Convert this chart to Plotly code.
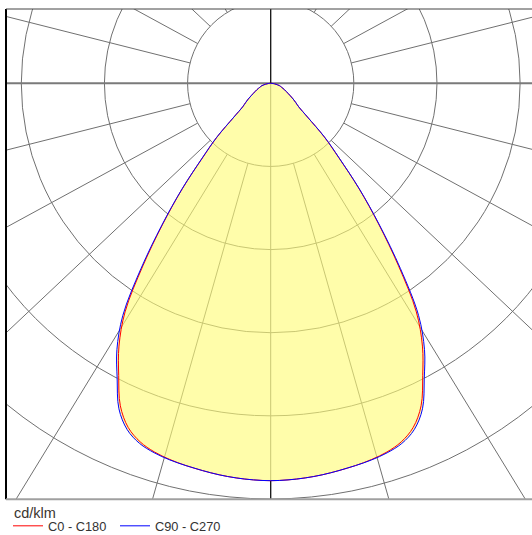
import numpy as np
import plotly.graph_objects as go

# Luminous intensity distribution, cd/klm, vertical angle gamma in degrees
GAMMA = [0, 2.5, 5, 7.5, 10, 12.5, 15, 17.5, 20, 22.5, 25, 27.5, 30, 32.5, 35,
         37.5, 40, 42.5, 45, 47.5, 50, 52.5, 55, 57.5, 60, 62.5, 65, 67.5, 70,
         72.5, 75, 77.5, 80, 82.5, 85, 87.5, 90]
C0_C180 = [478, 477.5, 476.5, 475, 473, 471, 468.5, 465, 459, 448, 428, 396, 365, 326,
           268, 213, 165, 121, 91, 60, 44, 38, 33, 28, 24, 21, 18.5, 16, 14,
           12.5, 11, 8.5, 6.5, 4.5, 3, 1.5, 0]
C90_C270 = [478, 477.5, 476.5, 475, 473, 471, 469, 466, 461, 451, 432, 400, 370, 331,
            272, 215, 166, 122, 92, 60, 44, 38, 33, 28, 24, 21, 18.5, 16, 14,
            12.5, 11, 8.5, 6.5, 4.5, 3, 1.5, 0]
SERIES_NAMES = ["C0 - C180", "C90 - C270"]
SERIES_COLORS = ["#ff0000", "#0000ff"]
UNIT = "cd/klm"

RINGS = [100, 200, 300, 400, 500]
RADIAL_STEP = 15
RADIAL_SQUEEZE = 0.943   # vertical compression of the radial guide lines

X_RANGE = [-318.4, 314.3]
Y_RANGE = [-500.4, 89.4]
W, H = 532, 535
DOM_X = [6 / W, 1.0]
DOM_Y = [1 - 499.3 / H, 1 - 9 / H]

GRID = "#707070"


def outline(values):
    g = np.radians(np.array(GAMMA, dtype=float))
    v = np.array(values, dtype=float)
    gg = np.concatenate([-g[::-1], g[1:]])
    vv = np.concatenate([v[::-1], v[1:]])
    return vv * np.sin(gg), -vv * np.cos(gg)


shapes = []
# concentric rings
for r in RINGS:
    shapes.append(dict(type="circle", xref="x", yref="y", x0=-r, x1=r, y0=-r, y1=r,
                       line=dict(color=GRID, width=1), layer="below"))
# radial lines, starting at the first ring
for a in range(RADIAL_STEP, 360, RADIAL_STEP):
    if a % 90 == 0:
        continue
    t = np.radians(a)
    d = np.array([np.sin(t), -np.cos(t) * RADIAL_SQUEEZE])
    d = d / np.hypot(*d)
    p0 = d * RINGS[0]
    p1 = d * 2000
    shapes.append(dict(type="line", xref="x", yref="y", x0=p0[0], y0=p0[1],
                       x1=p1[0], y1=p1[1], line=dict(color=GRID, width=1),
                       layer="below"))
# nadir line under the light
peak = max(max(C0_C180), max(C90_C270))
shapes.append(dict(type="line", xref="x", yref="y", x0=0, x1=0, y0=0, y1=-peak,
                   line=dict(color=GRID, width=1), layer="below"))
# horizontal axis through the luminaire
shapes.append(dict(type="line", xref="x", yref="y", x0=-1000, x1=1000, y0=0, y1=0,
                   line=dict(color="#7a7a7a", width=2), layer="below"))
# vertical axis above the luminaire and below the distribution
shapes.append(dict(type="line", xref="x", yref="y", x0=0, x1=0, y0=0, y1=1000,
                   line=dict(color="#111111", width=1.3), layer="below"))
shapes.append(dict(type="line", xref="x", yref="y", x0=0, x1=0, y0=-peak, y1=-1000,
                   line=dict(color="#111111", width=1.3), layer="below"))
# frame
shapes.append(dict(type="line", xref="paper", yref="paper", x0=DOM_X[0], x1=DOM_X[0],
                   y0=DOM_Y[0], y1=DOM_Y[1], line=dict(color="#000000", width=2)))
shapes.append(dict(type="line", xref="paper", yref="paper", x0=DOM_X[0], x1=1,
                   y0=DOM_Y[1], y1=DOM_Y[1], line=dict(color="#444444", width=1)))
shapes.append(dict(type="line", xref="paper", yref="paper", x0=DOM_X[0], x1=1,
                   y0=DOM_Y[0], y1=DOM_Y[0], line=dict(color="#a0a0a0", width=2)))

fig = go.Figure()
fx, fy = outline(C90_C270)
fig.add_trace(go.Scatter(x=fx, y=fy, mode="lines", fill="toself",
                         fillcolor="rgba(255,252,118,0.62)",
                         line=dict(width=0, shape="spline"),
                         hoverinfo="skip", showlegend=False))
for name, vals, col in zip(SERIES_NAMES, [C0_C180, C90_C270], SERIES_COLORS):
    x, y = outline(vals)
    fig.add_trace(go.Scatter(x=x, y=y, mode="lines", name=name,
                             line=dict(color=col, width=1, shape="spline")))

fig.add_annotation(text=UNIT, xref="paper", yref="paper", x=12 / W, y=1 - 513 / H,
                   xanchor="left", yanchor="middle", showarrow=False,
                   font=dict(size=14.5, color="#3a3530"))

fig.update_layout(
    width=W, height=H,
    margin=dict(l=0, r=0, t=0, b=0, autoexpand=False),
    paper_bgcolor="white", plot_bgcolor="white",
    xaxis=dict(domain=DOM_X, range=X_RANGE, visible=False, fixedrange=True),
    yaxis=dict(domain=DOM_Y, range=Y_RANGE, visible=False, fixedrange=True),
    shapes=shapes,
    font=dict(family="Liberation Sans, Arial, sans-serif", size=12.8, color="#333333"),
    legend=dict(orientation="h", x=8 / W, y=1 - 511 / H, xanchor="left", yanchor="top",
                entrywidth=62, entrywidthmode="pixels",
                bgcolor="rgba(0,0,0,0)", borderwidth=0),
    showlegend=True,
)

fig.write_html("out.html")
